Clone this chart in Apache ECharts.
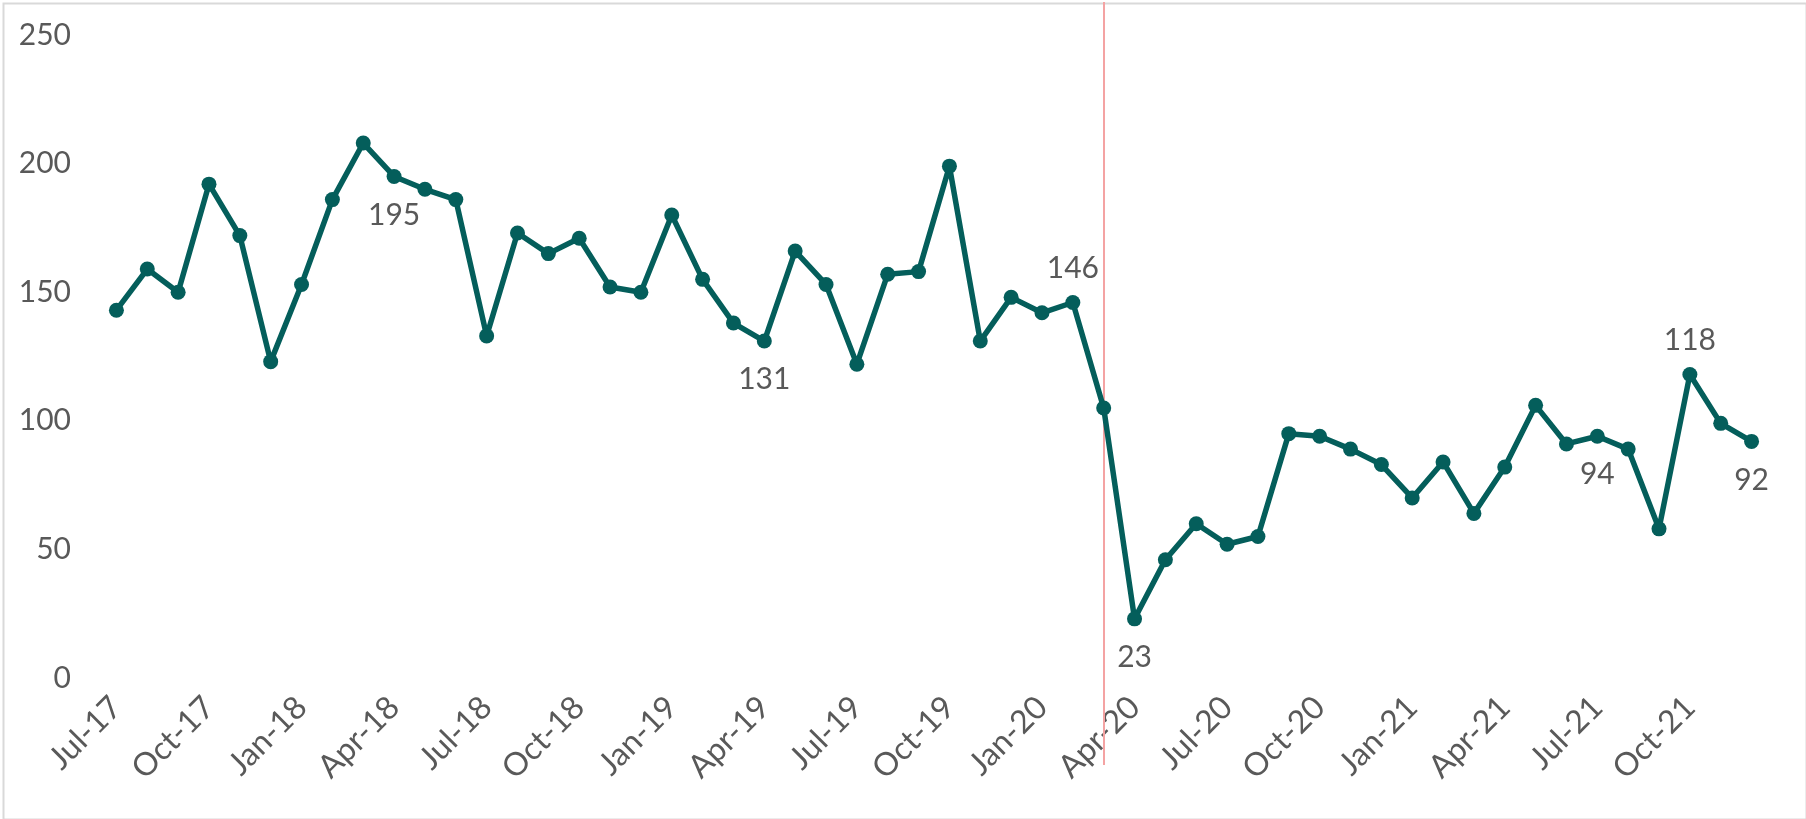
<!DOCTYPE html>
<html>
<head>
<meta charset="utf-8">
<script src="https://cdn.jsdelivr.net/npm/echarts@6/dist/echarts.min.js"></script>
<style>
  html, body { margin: 0; padding: 0; background: #fff; }
  #chart { width: 1806px; height: 819px; }
</style>
</head>
<body>
<div id="chart"></div>
<script>
// 月份
var months = [
  'Jul-17', 'Aug-17', 'Sep-17', 'Oct-17', 'Nov-17', 'Dec-17',
  'Jan-18', 'Feb-18', 'Mar-18', 'Apr-18', 'May-18', 'Jun-18',
  'Jul-18', 'Aug-18', 'Sep-18', 'Oct-18', 'Nov-18', 'Dec-18',
  'Jan-19', 'Feb-19', 'Mar-19', 'Apr-19', 'May-19', 'Jun-19',
  'Jul-19', 'Aug-19', 'Sep-19', 'Oct-19', 'Nov-19', 'Dec-19',
  'Jan-20', 'Feb-20', 'Mar-20', 'Apr-20', 'May-20', 'Jun-20',
  'Jul-20', 'Aug-20', 'Sep-20', 'Oct-20', 'Nov-20', 'Dec-20',
  'Jan-21', 'Feb-21', 'Mar-21', 'Apr-21', 'May-21', 'Jun-21',
  'Jul-21', 'Aug-21', 'Sep-21', 'Oct-21', 'Nov-21', 'Dec-21'
]

// 每月数值
var values = [
  143, 159, 150, 192, 172, 123,
  153, 186, 208, 195, 190, 186,
  133, 173, 165, 171, 152, 150,
  180, 155, 138, 131, 166, 153,
  122, 157, 158, 199, 131, 148,
  142, 146, 105, 23, 46, 60,
  52, 55, 95, 94, 89, 83,
  70, 84, 64, 82, 106, 91,
  94, 89, 58, 118, 99, 92
]

// 显示数据标签的月份
var labelledMonths = ['Apr-18', 'Apr-19', 'Feb-20', 'Apr-20', 'Jul-21', 'Oct-21', 'Dec-21']
var labelAbove = ['Feb-20', 'Oct-21']

// 竖线标记月份
var markerMonth = 'Mar-20'

var yTicks = [0, 50, 100, 150, 200, 250]

;(function () {
  var font = "'Century Gothic', Lato, 'Noto Sans', sans-serif"
  var textColor = '#595959'
  var lineColor = '#045E5B'

  var myChart = echarts.init(document.getElementById('chart'))

  var seriesData = values.map(function (v, i) {
    var m = months[i]
    if (labelledMonths.indexOf(m) < 0) return v
    var above = labelAbove.indexOf(m) >= 0
    return {
      value: v,
      label: {
        show: true,
        position: above ? 'top' : 'bottom',
        distance: above ? 12 : 16,
      },
    }
  })

  var option = {
    backgroundColor: '#fff',
    animation: false,
    graphic: [
      {
        type: 'rect',
        left: 1,
        top: 1,
        shape: { width: 1803, height: 816 },
        style: { fill: 'none', stroke: '#d9d9d9', lineWidth: 2 },
        silent: true,
      },
    ],
    grid: [
      { left: 101, right: 39, top: 35, bottom: 141 },
      { left: 101, right: 39, top: 2, bottom: 54 },
    ],
    xAxis: [
      {
        type: 'category',
        gridIndex: 0,
        data: months,
        boundaryGap: true,
        axisLine: { show: false },
        axisTick: { show: false },
        axisLabel: {
          interval: 2,
          rotate: 45,
          margin: 24,
          color: textColor,
          fontSize: 32,
          fontFamily: font,
        },
        splitLine: { show: false },
      },
      {
        type: 'category',
        gridIndex: 1,
        data: months,
        boundaryGap: true,
        show: false,
      },
    ],
    yAxis: [
      {
        type: 'value',
        gridIndex: 0,
        min: yTicks[0],
        max: yTicks[yTicks.length - 1],
        interval: 50,
        axisLine: { show: false },
        axisTick: { show: false },
        splitLine: { show: false },
        axisLabel: {
          margin: 30,
          color: textColor,
          fontSize: 30,
          fontFamily: font,
        },
      },
      {
        type: 'value',
        gridIndex: 1,
        min: 0,
        max: 1,
        show: false,
      },
    ],
    series: [
      {
        // 红色竖线
        type: 'line',
        xAxisIndex: 1,
        yAxisIndex: 1,
        data: [],
        z: 1,
        silent: true,
        markLine: {
          silent: true,
          symbol: ['none', 'none'],
          label: { show: false },
          lineStyle: { color: '#F4A3A3', width: 2, type: 'solid' },
          data: [{ xAxis: markerMonth }],
        },
      },
      {
        type: 'line',
        xAxisIndex: 0,
        yAxisIndex: 0,
        data: seriesData,
        z: 5,
        symbol: 'circle',
        symbolSize: 15,
        lineStyle: { color: lineColor, width: 5.5 },
        itemStyle: { color: lineColor },
        label: {
          show: false,
          color: textColor,
          fontSize: 30,
          fontFamily: font,
        },
      },
    ],
  }

  myChart.setOption(option)
})()
</script>
</body>
</html>
